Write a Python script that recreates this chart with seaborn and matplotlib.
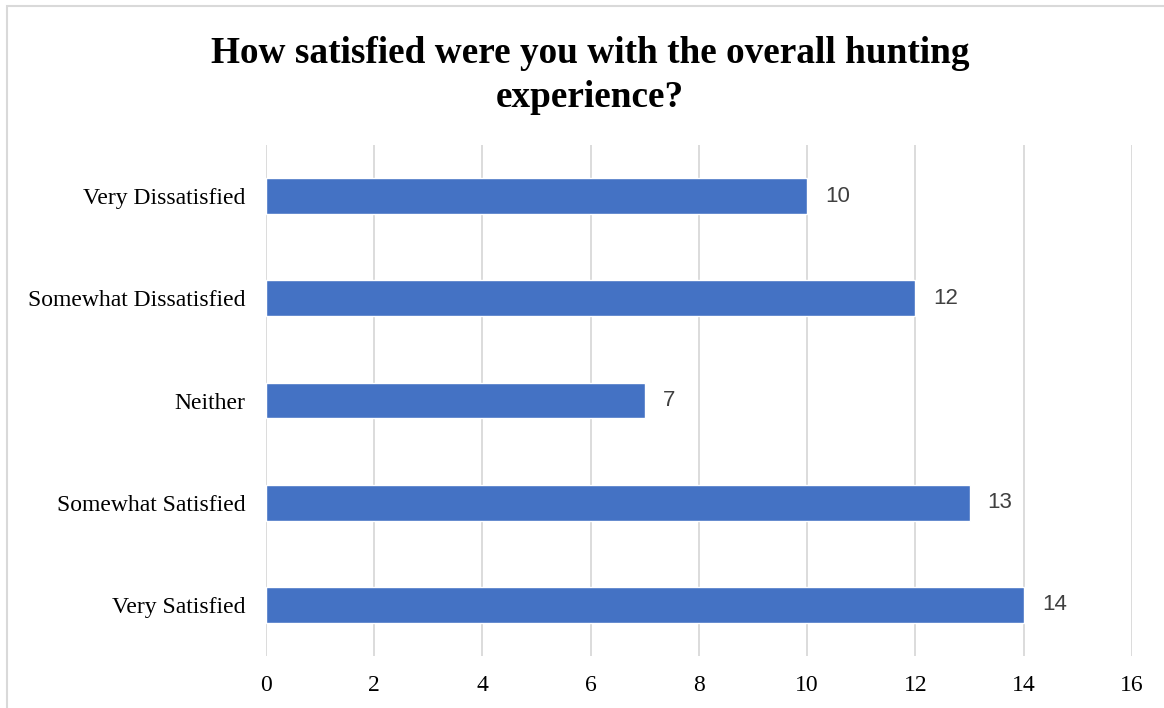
import matplotlib.pyplot as plt
import matplotlib.patches as mpatches
import pandas as pd
import seaborn as sns

categories = ["Very Dissatisfied", "Somewhat Dissatisfied", "Neither",
              "Somewhat Satisfied", "Very Satisfied"]
counts = [10, 12, 7, 13, 14]
x_ticks = [0, 2, 4, 6, 8, 10, 12, 14, 16]
title = "How satisfied were you with the overall hunting\nexperience?"


def main():
    sns.set_theme(style="white")
    plt.rcParams["font.family"] = ["Liberation Serif", "DejaVu Serif"]

    df = pd.DataFrame({"category": categories, "count": counts})

    fig = plt.figure(figsize=(11.64, 7.08), dpi=100)
    ax = fig.add_axes([0.2285, 0.0734, 0.744, 0.7218])

    sns.barplot(data=df, x="count", y="category", orient="h",
                color="#4472C4", saturation=1, width=0.35, ax=ax, zorder=3)

    ax.set_xlim(0, 16)
    ax.set_xticks(x_ticks)
    ax.set_xticklabels([str(t) for t in x_ticks], fontsize=17, color="black")
    ax.tick_params(axis="y", labelsize=17, colors="black", length=0, pad=15)
    ax.tick_params(axis="x", length=0, pad=14)
    ax.set_xlabel("")
    ax.set_ylabel("")
    ax.grid(axis="x", color="#D9D9D9", linewidth=1.3, zorder=0)
    ax.set_axisbelow(True)
    for s in ax.spines.values():
        s.set_visible(False)

    for i, v in enumerate(counts):
        ax.annotate(str(v), xy=(v, i), xytext=(13, 0), textcoords="offset points",
                    va="center", ha="left", fontsize=16, color="#404040",
                    family=["Liberation Sans", "DejaVu Sans"])

    fig.text(0.507, 0.893, title, ha="center", va="center", fontsize=26.8,
             fontweight="bold", color="black", linespacing=1.34)

    # chart frame
    fig.patches.append(mpatches.Rectangle((0.006, -0.05), 1.2, 1.042,
                                          transform=fig.transFigure, fill=False,
                                          edgecolor="#D9D9D9", linewidth=1.5))

    fig.savefig("out.png", dpi=100)
    plt.close(fig)


if __name__ == "__main__":
    main()
